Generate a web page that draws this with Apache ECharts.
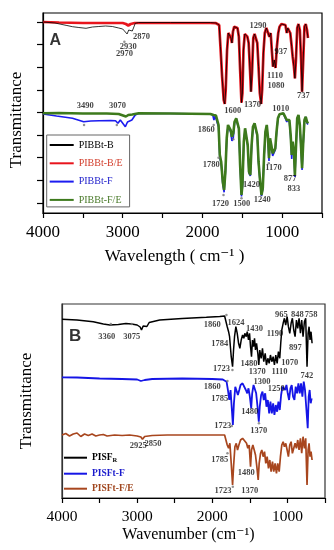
<!DOCTYPE html>
<html><head><meta charset="utf-8">
<script src="https://cdn.jsdelivr.net/npm/echarts@6/dist/echarts.min.js"></script>
<style>html,body{margin:0;padding:0;background:#fff}#c{width:334px;height:550px}</style>
</head><body><div id="c"></div>
<script>
// ---------- Panel A data: [wavenumber (cm-1), transmittance (a.u., offset)] ----------
const pibbtB_high = [[4000,191],[3850,190],[3700,187.5],[3630,186.3],[3550,185.5],[3460,184.7],[3380,186],[3300,186.5],[3214,187],[3130,186.5],[3050,185],[3000,184],[2975,182],[2945,179],[2925,183],[2905,183.5],[2880,182],[2860,186],[2843,189.7],[2800,190.5],[2400,190.5],[1900,190.5],[1830,190]];
const pibbtBE_high = [[4000,191],[3800,190.5],[3500,190],[3000,190],[2960,189],[2930,187.5],[2900,189],[2850,190],[2400,190],[1900,190],[1830,189.8]];
// fingerprint region where PIBBt-B and PIBBt-B/E coincide
const topFingerprint = [[1815,189.7],[1790,188],[1774,166.3],[1753,136.3],[1733,113],[1720,109],[1708,123],[1691,163],[1675,180],[1658,181.3],[1642,175],[1630,170],[1617,181.3],[1601,186.3],[1576,187],[1560,185],[1543,176.3],[1527,143],[1510,110.3],[1498,120],[1485,163],[1469,179],[1453,180.3],[1436,176.3],[1420,170],[1403,143],[1391,121.3],[1378,140],[1362,175],[1346,179],[1329,177],[1312,170],[1296,146.3],[1280,120],[1263,109],[1251,123],[1235,160],[1218,180],[1198,185],[1177,183],[1160,176.3],[1144,180],[1127,160],[1115,146.3],[1099,153],[1083,145],[1066,166.3],[1049,180],[1033,186.3],[1009,189],[984,189.7],[959,188],[942,180],[930,185],[914,187],[898,180],[880,166.3],[868,156.3],[852,146.3],[840,134.7],[827,153],[811,185],[795,189],[778,183],[762,153],[750,121.3],[737,150],[720,186.3],[704,189],[688,183],[676,175]];
const pibbtF_high = [[4000,99],[3830,97],[3630,94.7],[3490,91.3],[3400,92],[3296,92.3],[3150,92.5],[3090,92.3],[3060,89.7],[3030,93],[2967,86.3],[2940,91],[2885,93],[2843,98],[2800,99.5],[2400,99.5],[1900,99],[1870,98],[1856,93],[1840,97]];
const pibbtF_fp = [[1815,95.5],[1798,86],[1782,55],[1765,50],[1745,29],[1728,20.7],[1712,40],[1695,74],[1679,87],[1663,85],[1646,81],[1630,72],[1613,75],[1597,90],[1576,94],[1560,92.5],[1543,84],[1527,47],[1510,16.5],[1498,26],[1481,70],[1465,84],[1449,82],[1432,67],[1416,40],[1399,37],[1383,67],[1366,85.5],[1346,89],[1329,87],[1312,77],[1296,50],[1280,34],[1259,17],[1243,24],[1226,57],[1210,80],[1193,87],[1177,72],[1165,52],[1152,72],[1136,66],[1119,57],[1103,56],[1086,63],[1070,80],[1053,94],[1033,98.5],[1009,99.5],[984,99.5],[959,97.5],[942,91],[926,93.5],[909,91],[893,75],[880,54],[868,70],[852,60],[840,36],[827,63],[811,94],[795,97.5],[778,87],[762,63],[750,43],[737,67],[720,92],[704,96],[688,90],[676,88.5]];
const pibbtFE_high = [[4000,99.7],[3800,100],[3500,99.5],[3200,99.5],[3050,99],[2960,96.5],[2930,98],[2880,98.5],[2800,99.7],[2400,99.5],[1900,99],[1860,98],[1830,97.5]];
const pibbtFE_fp = [[1815,96.3],[1798,88],[1782,58],[1765,51.3],[1745,31.3],[1728,23],[1712,41.3],[1695,75],[1679,88],[1663,86.3],[1646,83],[1630,76.3],[1613,79.7],[1597,91.3],[1576,94.7],[1560,93],[1543,84.7],[1527,48],[1510,18],[1498,28],[1481,71.3],[1465,84.7],[1449,83],[1432,68],[1416,41.3],[1399,38],[1383,68],[1366,86.3],[1346,89.7],[1329,88],[1312,78],[1296,51.3],[1280,35],[1259,18],[1243,24.7],[1226,58],[1210,81.3],[1193,88],[1177,75],[1165,54.7],[1152,74.7],[1136,68],[1119,59.7],[1103,58],[1086,64.7],[1070,81.3],[1053,94.7],[1033,98.7],[1009,99.7],[984,99.7],[959,98],[942,93],[926,94.7],[909,93],[893,78],[880,58],[868,71.3],[852,61.3],[840,38],[827,64.7],[811,94.7],[795,98],[778,88],[762,64.7],[750,44.7],[737,68],[720,93],[704,96.3],[688,91.3],[676,89.7]];

// ---------- Panel B data ----------
const pisfR_high = [[4000,178.7],[3800,178],[3584,176.3],[3450,174],[3363,173],[3250,173.5],[3150,174.5],[3075,174],[3000,173],[2960,171],[2942,168],[2920,172],[2898,174],[2870,171.5],[2840,175.5],[2700,178],[2400,179.5],[2079,180.7],[1900,181.5],[1836,182]];
const pisfR_fp = [[1814,180.7],[1801,171.3],[1783,166.3],[1770,161.3],[1748,141.3],[1730,131.3],[1717,148],[1704,161.3],[1686,171.3],[1668,164.7],[1650,154.7],[1633,149.7],[1615,158],[1597,163],[1580,159.7],[1567,164.7],[1548,161.3],[1535,166.3],[1518,158],[1504,164.7],[1491,151.3],[1478,141.3],[1465,158],[1451,151.3],[1438,159.7],[1425,148],[1411,154.7],[1394,144.7],[1381,133],[1368,148],[1350,139.7],[1332,149.7],[1315,136.3],[1296,144.7],[1279,133],[1261,139.7],[1243,134.7],[1226,143],[1208,136.3],[1190,141.3],[1173,133],[1155,143],[1137,134.7],[1120,146.3],[1102,139.7],[1089,154.7],[1075,168],[1057,174.7],[1040,179.7],[1023,173],[1004,181.3],[987,171.3],[969,164.7],[951,174.7],[934,179.7],[916,168],[898,161.3],[880,178],[863,169.7],[845,179.7],[827,164.7],[810,178],[792,161.3],[774,176.3],[757,179.7],[739,131.3],[725,164.7],[712,171.3],[699,158],[686,166.3],[672,154.7]];
const pisftF_high = [[4000,120.7],[3800,120.5],[3500,119.5],[3200,119],[3000,118.5],[2950,117],[2929,115.3],[2900,118],[2800,119],[2400,119.5],[2000,119],[1860,118.5],[1836,118]];
const pisftF_fp = [[1810,116.3],[1792,108],[1774,98],[1757,108],[1739,88],[1726,73],[1712,94.7],[1694,111.3],[1677,109.7],[1659,103],[1641,108],[1624,113],[1597,114.7],[1571,113],[1553,108],[1535,104.7],[1518,109.7],[1500,101.3],[1482,89.7],[1469,104.7],[1451,113],[1434,111.3],[1416,104.7],[1398,91.3],[1381,76.3],[1368,91.3],[1350,103],[1332,106.3],[1315,98],[1296,104.7],[1279,91.3],[1261,98],[1243,84.7],[1226,96.3],[1208,84.7],[1190,94.7],[1173,83],[1155,93],[1137,86.3],[1120,96.3],[1102,88],[1084,103],[1066,111.3],[1049,113],[1031,108],[1013,113],[996,104.7],[978,98],[960,109.7],[943,113],[925,101.3],[907,98],[890,111.3],[872,104.7],[854,114.7],[836,104.7],[819,114.7],[801,101.3],[783,116.3],[766,108],[748,109.7],[730,69.7],[717,101.3],[704,108],[690,94.7],[677,99.7]];
const pisftFE_high = [[4000,63],[3950,64.5],[3900,62],[3850,64],[3800,65],[3750,61.5],[3700,64],[3650,62.5],[3600,64],[3550,62],[3500,63],[3450,63.5],[3400,62],[3300,63],[3200,62.5],[3100,63],[3000,62],[2950,61],[2929,58.7],[2900,61.5],[2850,62],[2800,62.5],[2600,63],[2300,63],[2000,63],[1836,63]];
const pisftFE_fp = [[1819,61.3],[1801,53],[1783,49.7],[1766,54.7],[1748,34.7],[1730,13],[1717,31.3],[1699,51.3],[1681,54.7],[1664,48],[1646,53],[1624,58],[1597,59.7],[1571,58.7],[1544,54.7],[1527,49.7],[1509,53],[1491,31.3],[1478,48],[1460,53],[1442,48],[1425,43],[1407,31.3],[1389,18],[1376,34.7],[1358,44.7],[1341,48],[1323,41.3],[1305,46.3],[1288,34.7],[1270,41.3],[1252,29.7],[1235,38],[1217,26.3],[1199,36.3],[1182,26.3],[1164,34.7],[1146,24.7],[1129,34.7],[1110,26.3],[1093,41.3],[1075,53],[1057,56.3],[1040,51.3],[1022,54.7],[1004,48],[987,41.3],[969,53],[951,56.3],[934,44.7],[916,43],[898,54.7],[880,49.7],[863,58],[845,48],[827,59.7],[810,44.7],[792,61.3],[774,49.7],[757,59.7],[739,13],[725,48],[712,54.7],[699,41.3],[686,46.3],[672,38]];

// ---------- peak labels [wavenumber, y, text] ----------
const peakLabelsA = [[2763,176,'2870'],[2930,166.3,'2930'],[2979,159,'2970'],[1304,187,'1290'],[1016,161.3,'937'],[1090,137,'1110'],[1078,127,'1080'],[734,117,'737'],[1372,108.7,'1370'],[1621,102,'1600'],[1016,104.3,'1010'],[3471,107,'3490'],[3065,107,'3070'],[1952,83,'1860'],[1890,48,'1780'],[1772,9,'1720'],[1506,9.7,'1500'],[1248,13,'1240'],[1383,28,'1420'],[1109,45.3,'1170'],[899,34,'877'],[852,24.7,'833']];
const peakLabelsB = [[3403,161.3,'3360'],[3072,161.3,'3075'],[2984,52.3,'2925'],[2789,54,'2850'],[2000,173,'1860'],[1684,175.7,'1624'],[1900,154.7,'1784'],[1437,169.7,'1430'],[1165,164.7,'1190'],[1082,183,'965'],[869,183,'848'],[684,183,'758'],[893,150.3,'897'],[1513,134.7,'1480'],[968,135.7,'1070'],[1878,129.7,'1723'],[1403,126.3,'1370'],[1105,126.3,'1110'],[740,122,'742'],[2000,111.3,'1860'],[1900,99.7,'1785'],[1337,116.3,'1300'],[1149,109.7,'1250'],[1503,86.3,'1480'],[1861,72,'1723'],[1381,67.3,'1370'],[1900,38.7,'1785'],[1547,25.3,'1480'],[1857,7.3,'1723'],[1503,7.3,'1370']];
const peakMarksA = [[2979,171.3],[3485,88],[3074,88],[1859,88],[1798,55.3],[1736,18],[1612,73.7],[1510,14.7],[1168,49.7]];
const peakMarksB = [[3350,174],[3072,174],[1812,183],[1732,128],[1798,117],[1740,72],[1379,74.7],[1798,44.7],[1727,11.3]];
const panelLetterA = [[3846,172,'A']];
const panelLetterB = [[3824,162,'B']];
const yTicksA = [10,32.6,55.3,77.9,100.5,123.1,145.8,168.4,191];

const SERIF = "'Liberation Serif','DejaVu Serif',serif";
const SANS = "'Liberation Sans','DejaVu Sans',sans-serif";

function line(name, data, color, width, xi){
  return {type:'line', name, data, xAxisIndex:xi, yAxisIndex:xi, showSymbol:false, symbol:'none',
    lineStyle:{color, width}, itemStyle:{color}, silent:true, animation:false};
}
function labels(data, xi, size, family, color){
  return {type:'scatter', data, xAxisIndex:xi, yAxisIndex:xi, symbolSize:1, silent:true, animation:false,
    itemStyle:{color:'transparent'}, z:10,
    label:{show:true, position:'inside', formatter:p=>p.data[2], fontFamily:family, fontWeight:'bold', fontSize:size, color}};
}
function marks(data, xi){
  return {type:'scatter', data, xAxisIndex:xi, yAxisIndex:xi, symbol:'circle', symbolSize:2.5, silent:true,
    animation:false, itemStyle:{color:'#777'}, z:9};
}
function xAx(gi, fs, margin, name, nameFs, nameGap, pad){
  return {type:'value', gridIndex:gi, min:500, max:4000, interval:500, inverse:true,
    axisLine:{show:true, lineStyle:{color:'#000', width:1.2}},
    axisTick:{show:true, inside:false, length:5, lineStyle:{color:'#000', width:1.2}},
    axisLabel:{formatter:v=> v%1000===0 ? String(v) : '', fontFamily:SERIF, fontSize:fs, color:'#000', margin},
    splitLine:{show:false},
    name, nameLocation:'middle', nameGap, nameTextStyle:{fontFamily:SERIF, fontSize:nameFs, color:'#000', padding:pad}};
}

const chart = echarts.init(document.getElementById('c'), null, {renderer:'canvas'});
chart.setOption({
  backgroundColor:'#fff',
  animation:false,
  grid:[
    {left:38, top:13, width:284, height:200, show:true, borderColor:'#000', borderWidth:1.2, backgroundColor:'transparent'},
    {left:62, top:304, width:263, height:194, show:true, borderColor:'#333', borderWidth:1.2, backgroundColor:'transparent'}
  ],
  xAxis:[
    xAx(0, 17, 11, 'Wavelength ( cm⁻¹ )', 17, 35, [0,16,0,0]),
    xAx(1, 15.5, 11, 'Wavenumber (cm⁻¹)', 16, 29, [0,10,0,0])
  ],
  yAxis:[
    {type:'value', gridIndex:0, min:0, max:200, axisLine:{show:true, lineStyle:{color:'#000', width:1.2}},
      axisTick:{show:true, inside:false, length:6, customValues:yTicksA, lineStyle:{color:'#000', width:1.2}},
      axisLabel:{show:false}, splitLine:{show:false},
      name:'Transmittance', nameLocation:'middle', nameGap:18, nameRotate:90,
      nameTextStyle:{fontFamily:SERIF, fontSize:17, color:'#000', padding:[0,14,0,0]}},
    {type:'value', gridIndex:1, min:0, max:194, axisLine:{show:true, lineStyle:{color:'#333', width:1.2}},
      axisTick:{show:false}, axisLabel:{show:false}, splitLine:{show:false},
      name:'Transmittance', nameLocation:'middle', nameGap:27, nameRotate:90,
      nameTextStyle:{fontFamily:SERIF, fontSize:17, color:'#000'}}
  ],
  legend:[
    {left:46.7, top:135, orient:'vertical', padding:[5,7,2,2], itemGap:8.3, itemWidth:24, itemHeight:10,
      borderColor:'#666', borderWidth:1, backgroundColor:'#fff',
      itemStyle:{opacity:0, borderWidth:0},
      textStyle:{fontFamily:SERIF, fontSize:10},
      data:[{name:'PIBBt-B', textStyle:{color:'#000'}},{name:'PIBBt-B/E', textStyle:{color:'#d23c2a'}},
            {name:'PIBBt-F', textStyle:{color:'#2222cc'}},{name:'PIBBt-F/E', textStyle:{color:'#4a7a2a'}}]},
    {left:63, top:452.7, orient:'vertical', padding:0, itemGap:5, itemWidth:23, itemHeight:10,
      itemStyle:{opacity:0, borderWidth:0},
      textStyle:{fontFamily:SERIF, fontSize:9.5, fontWeight:'bold',
        rich:{a:{fontFamily:SERIF, fontSize:9.5, fontWeight:'bold', color:'#000'},
              s:{fontFamily:SERIF, fontSize:6.5, fontWeight:'bold', color:'#000', padding:[5,0,0,0]}}},
      formatter:n=> n==='PISFR' ? '{a|PISF}{s|R}' : n,
      data:[{name:'PISFR', textStyle:{color:'#000'}},{name:'PISFt-F', textStyle:{color:'#1a1acc'}},
            {name:'PISFt-F/E', textStyle:{color:'#a0461e'}}]}
  ],
  series:[
    line('PIBBt-B/E', pibbtBE_high.concat(topFingerprint), '#e8141c', 2.7, 0),
    line('PIBBt-B', pibbtB_high.concat(topFingerprint), '#000', 0.8, 0),
    line('PIBBt-F', pibbtF_high.concat(pibbtF_fp), '#1c1cf0', 1.6, 0),
    line('PIBBt-F/E', pibbtFE_high.concat(pibbtFE_fp), '#3d7a1c', 2.6, 0),
    marks(peakMarksA, 0),
    labels(peakLabelsA, 0, 8.5, SERIF, '#111'),
    labels(panelLetterA, 0, 16, SANS, '#000'),
    line('PISFR', pisfR_high.concat(pisfR_fp), '#000', 1.5, 1),
    line('PISFt-F', pisftF_high.concat(pisftF_fp), '#1515e6', 1.8, 1),
    line('PISFt-F/E', pisftFE_high.concat(pisftFE_fp), '#a8461e', 1.7, 1),
    marks(peakMarksB, 1),
    labels(peakLabelsB, 1, 8.5, SERIF, '#111'),
    labels(panelLetterB, 1, 17, SANS, '#000')
  ]
});
</script></body></html>
